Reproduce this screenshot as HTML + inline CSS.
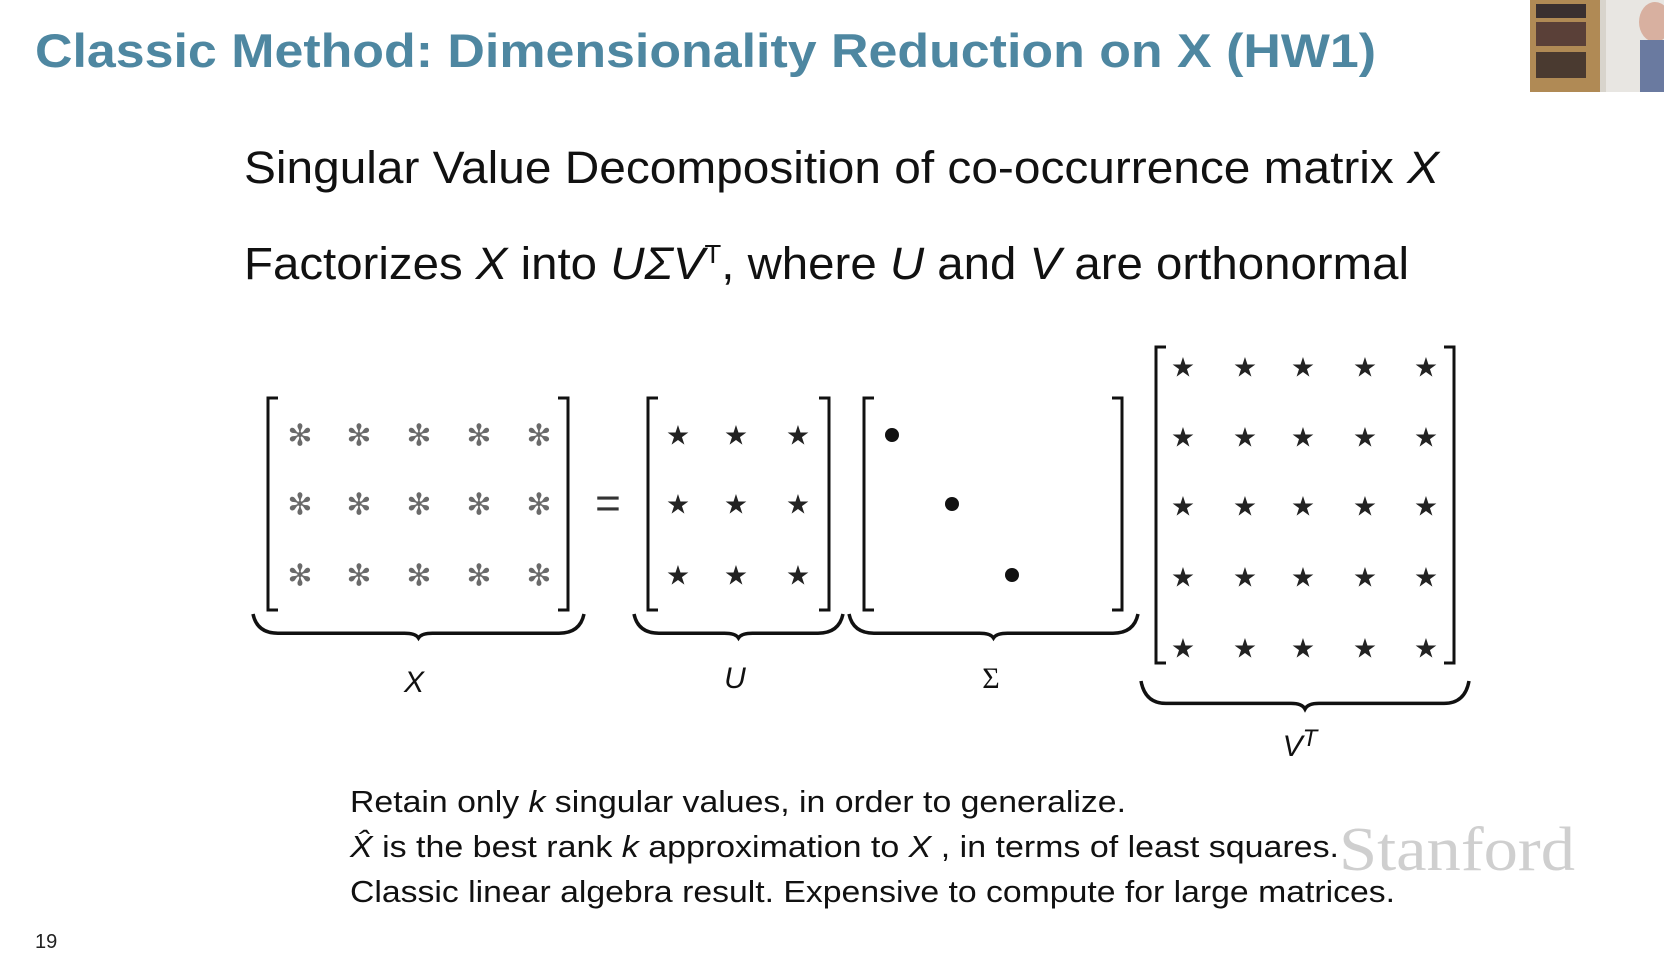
<!DOCTYPE html>
<html><head><meta charset="utf-8">
<style>
html,body{margin:0;padding:0;background:#fff;}
body{width:1664px;height:972px;overflow:hidden;}
svg{display:block;}
text{font-family:"Liberation Sans",sans-serif;}
</style></head>
<body>
<svg id="s" width="1664" height="972" viewBox="0 0 1664 972">
<rect width="1664" height="972" fill="#ffffff"/>
<text x="35" y="67" font-size="47" font-weight="bold" fill="#4e87a1" textLength="1341" lengthAdjust="spacingAndGlyphs">Classic Method: Dimensionality Reduction on X (HW1)</text>
<g>
<rect x="1530" y="0" width="134" height="92" fill="#d8d4cc"/>
<rect x="1530" y="0" width="70" height="92" fill="#b08a55"/>
<rect x="1536" y="4" width="50" height="14" fill="#3a3030"/>
<rect x="1536" y="22" width="50" height="24" fill="#5a4038"/>
<rect x="1536" y="52" width="50" height="26" fill="#4a3a30"/>
<rect x="1606" y="0" width="58" height="92" fill="#e8e6e2"/>
<ellipse cx="1655" cy="22" rx="16" ry="20" fill="#d8b0a0"/>
<rect x="1640" y="40" width="24" height="52" fill="#6a7aa0"/>
</g>
<text x="244" y="183" font-size="45" fill="#111" textLength="1195" lengthAdjust="spacingAndGlyphs">Singular Value Decomposition of co-occurrence matrix <tspan font-style="italic">X</tspan></text>
<text x="244" y="279" font-size="45" fill="#111" textLength="1165" lengthAdjust="spacingAndGlyphs">Factorizes <tspan font-style="italic">X</tspan> into <tspan font-style="italic">UΣV</tspan><tspan font-size="26" dy="-16">T</tspan><tspan dy="16">, where </tspan><tspan font-style="italic">U</tspan> and <tspan font-style="italic">V</tspan> are orthonormal</text>
<g id="diagram"></g>
<text x="350" y="812" font-size="31" fill="#111" textLength="776" lengthAdjust="spacingAndGlyphs">Retain only <tspan font-style="italic">k</tspan> singular values, in order to generalize.</text>
<text x="350" y="857" font-size="31" fill="#111" textLength="989" lengthAdjust="spacingAndGlyphs"><tspan font-style="italic">X̂</tspan> is the best rank <tspan font-style="italic">k</tspan> approximation to <tspan font-style="italic">X</tspan> , in terms of least squares.</text>
<text x="350" y="902" font-size="31" fill="#111" textLength="1045" lengthAdjust="spacingAndGlyphs">Classic linear algebra result. Expensive to compute for large matrices.</text>
<text x="1339" y="870" font-size="62" fill="#cfcfcf" style="font-family:'Liberation Serif',serif" textLength="236" lengthAdjust="spacingAndGlyphs">Stanford</text>
<text x="35" y="948" font-size="20" fill="#222">19</text>
</svg>
<script>
const NS='http://www.w3.org/2000/svg';
const g=document.getElementById('diagram');
function mk(tag,attrs,parent){const e=document.createElementNS(NS,tag);for(const k in attrs)e.setAttribute(k,attrs[k]);(parent||g).appendChild(e);return e;}
const xCols=[300,359,419,479,539], xRows=[435,504,575];
const uCols=[678,736,798];
const sDots=[[892,435],[952,504],[1012,575]];
const vCols=[1183,1245,1303,1365,1426], vRows=[367,437,506,577,648];
function bracket(x1,y1,x2,y2,name){
  const b=mk('path',{d:`M${x1+10},${y1} H${x1} V${y2} H${x1+10} M${x2-10},${y1} H${x2} V${y2} H${x2-10}`,fill:'none',stroke:'#111','stroke-width':3});
  
  
}
function brace(x1,x2,y,h,name){
  const m=(x1+x2)/2;
  const b=mk('path',{d:`M${x1},${y} Q${x1+4},${y+h*0.8} ${x1+25},${y+h*0.8} H${m-14} Q${m-3},${y+h*0.8} ${m},${y+h} Q${m+3},${y+h*0.8} ${m+14},${y+h*0.8} H${x2-25} Q${x2-4},${y+h*0.8} ${x2},${y}`,fill:'none',stroke:'#111','stroke-width':3.5});
  
  
}
function star(x,y,c,txt,size,name){
  const t=mk('text',{x:x,y:y+size*0.35,'text-anchor':'middle','font-size':size,fill:c});
  t.textContent=txt;
  
  
}
bracket(268,398,568,610,'x-matrix-bracket');
xRows.forEach(r=>xCols.forEach(c=>star(c,r,'#6a6a6a','✻',30,'x-entry')));
brace(253,584,614,24,'x-brace');
const eq=mk('text',{x:608,y:518,'text-anchor':'middle','font-size':44,fill:'#333'});eq.textContent='=';


bracket(648,398,829,610,'u-matrix-bracket');
xRows.forEach(r=>uCols.forEach(c=>star(c,r,'#222','★',27,'u-entry')));
brace(634,843,614,24,'u-brace');
bracket(864,398,1122,610,'sigma-matrix-bracket');
sDots.forEach(d=>{const c=mk('circle',{cx:d[0],cy:d[1],r:7,fill:'#111'});
  
  });
brace(849,1138,614,24,'sigma-brace');
bracket(1156,347,1454,663,'vt-matrix-bracket');
vRows.forEach(r=>vCols.forEach(c=>star(c,r,'#222','★',27,'vt-entry')));
brace(1141,1469,681,28,'vt-brace');
function label(x,y,txt,name,sup){
  const t=mk('text',{x:x,y:y,'text-anchor':'middle','font-size':30,'font-style':'italic',fill:'#111'});
  t.textContent=txt;
  if(sup){const s=mk('tspan',{'font-size':24,dy:-10},t);s.textContent=sup;}
  
  
}
label(414,692,'X','x-label');
label(735,688,'U','u-label');
const sl=mk('text',{x:991,y:688,'text-anchor':'middle','font-size':30,fill:'#111',style:"font-family:'Liberation Serif',serif"});sl.textContent='Σ';


label(1300,756,'V','vt-label','T');
</script>
</body></html>
